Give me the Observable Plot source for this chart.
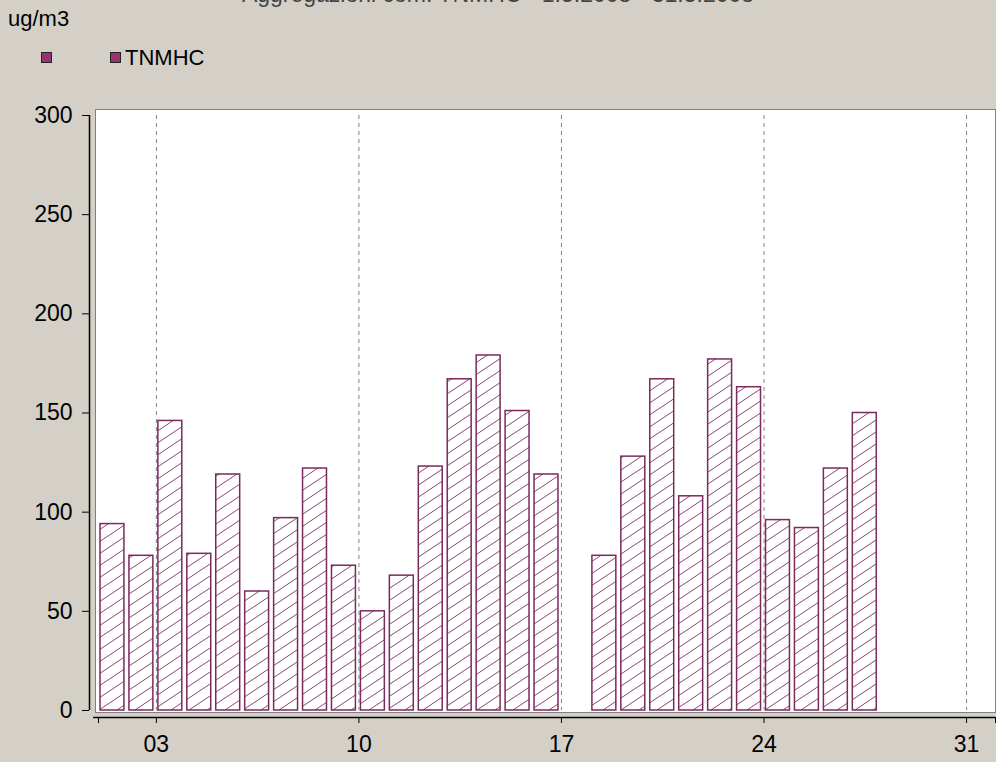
<!DOCTYPE html>
<html>
<head>
<meta charset="utf-8">
<script src="https://cdn.jsdelivr.net/npm/d3@7"></script>
<script src="https://cdn.jsdelivr.net/npm/@observablehq/plot@0.6"></script>
<style>
  html, body { margin: 0; padding: 0; background: #d4d0c8; }
  #wrap { position: relative; width: 996px; height: 762px; overflow: hidden; background: #d4d0c8;
          font-family: "Liberation Sans", Arial, sans-serif; }
  #head { position: relative; width: 996px; height: 80px; }
  #title { position: absolute; left: 0; width: 996px; top: -19px; text-align: center; font-size: 23px; color: #444; white-space: nowrap; }
  #unit { position: absolute; left: 8px; top: 6px; font-size: 22px; color: #000; }
  .sw { position: absolute; width: 9px; height: 9px; background: #97336e; border: 1px solid #222; }
  #leg { position: absolute; left: 125px; top: 45px; font-size: 22px; color: #000; }
  svg { display: block; }
</style>
</head>
<body>
<div id="wrap">
  <div id="head">
    <div id="title">Aggregazioni com. TNMHC - 1.5.2008 - 31.5.2008</div>
    <div id="unit">ug/m3</div>
    <div class="sw" style="left:41px; top:52px;"></div>
    <div class="sw" style="left:110px; top:52px;"></div>
    <div id="leg">TNMHC</div>
  </div>
  <div id="chart"></div>
</div>
<script>
// Data (day of month, TNMHC in ug/m3)
const days   = [1, 2, 3, 4, 5, 6, 7, 8, 9, 10, 11, 12, 13, 14, 15, 16, 18, 19, 20, 21, 22, 23, 24, 25, 26, 27];
const values = [94, 78, 146, 79, 119, 60, 97, 122, 73, 50, 68, 123, 167, 179, 151, 119, 78, 128, 167, 108, 177, 163, 96, 92, 122, 150];
const xTickValues = [3, 10, 17, 24, 31];
const xTickLabels = ["03", "10", "17", "24", "31"];
const yTickValues = [0, 50, 100, 150, 200, 250, 300];
const seriesName = "TNMHC";

const data = days.map((d, i) => ({day: d, value: values[i], series: seriesName}));

const chart = Plot.plot({
  width: 996,
  height: 682,
  marginTop: 35,
  marginBottom: 52,
  marginLeft: 98,
  marginRight: 1,
  style: {background: "transparent", fontFamily: "'Liberation Sans', Arial, sans-serif", fontSize: "23px", color: "#000", overflow: "visible"},
  x: {domain: [1, 32]},
  y: {domain: [0, 300]},
  marks: [
    Plot.frame({fill: "white", stroke: "#808080", insetLeft: -3, insetTop: -6, insetBottom: -2}),
    Plot.gridX(xTickValues, {stroke: "#808080", strokeOpacity: 1, strokeDasharray: "4,4", strokeWidth: 1}),
    Plot.rectY(data, {
      x1: "day", x2: d => d.day + 1, y: "value",
      fill: "url(#hatch)", stroke: "#7b2a5c", strokeWidth: 1.5,
      insetLeft: 2, insetRight: 3
    }),
    // y axis
    Plot.ruleX([1], {y1: 0, y2: 300, dx: -9, stroke: "#000", strokeWidth: 1.5}),
    Plot.axisY(yTickValues, {tickSize: 7, tickPadding: 10, dx: -9, stroke: "#000", fill: "#000", fontSize: 23, label: null}),
    // x axis
    Plot.ruleY([0], {x1: 0.83, x2: 32, dy: 7, stroke: "#000", strokeWidth: 1.5}),
    Plot.axisX([1, 32], {tickSize: 6, dy: 7, tickFormat: () => "", label: null, stroke: "#000"}),
    Plot.axisX(xTickValues, {tickSize: 6, tickPadding: 12, dy: 7, tickFormat: (d, i) => xTickLabels[xTickValues.indexOf(d)], fill: "#000", stroke: "#000", fontSize: 23, label: null})
  ]
});

// hatch pattern definition
const ns = "http://www.w3.org/2000/svg";
const defs = document.createElementNS(ns, "defs");
defs.innerHTML = `<pattern id="hatch" patternUnits="userSpaceOnUse" width="18" height="12">
  <rect width="18" height="12" fill="white"/>
  <path d="M0,12L18,0M-3,2L3,-2M15,14L21,10" stroke="#8a4576" stroke-width="1"/>
</pattern>`;
chart.insertBefore(defs, chart.firstChild);

document.getElementById("chart").appendChild(chart);
</script>
</body>
</html>
